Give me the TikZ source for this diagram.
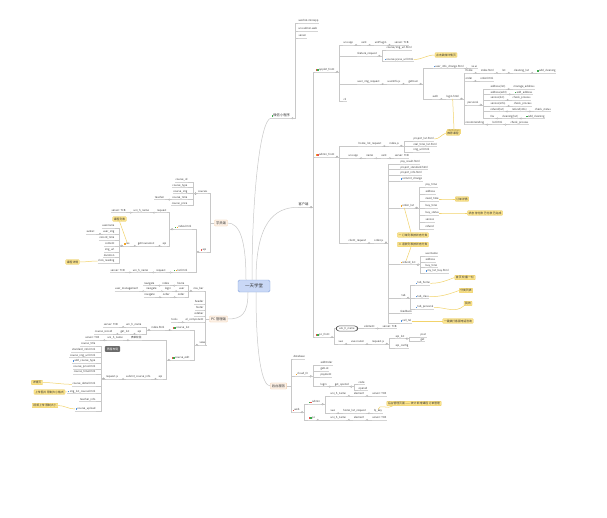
\documentclass[tikz,border=0pt]{standalone}
\usepackage{fontspec}
\setmainfont{Noto Sans CJK SC}
\definecolor{lnc}{HTML}{C8C8C8}
\definecolor{ulc}{HTML}{D4D4D4}
\definecolor{cof}{HTML}{FCE48C}
\definecolor{cod}{HTML}{E6C65A}
\definecolor{ycl}{HTML}{F2D36B}
\definecolor{mbf}{HTML}{FDF1E6}
\definecolor{mbd}{HTML}{F0CDAA}
\definecolor{cnf}{HTML}{C9D8F6}
\definecolor{cnd}{HTML}{86A4DE}
\definecolor{ig}{HTML}{3BAA4A}
\definecolor{ir}{HTML}{E8524A}
\definecolor{io}{HTML}{F5A623}
\definecolor{ib}{HTML}{4A90E2}
\definecolor{txc}{HTML}{333333}
\newcommand\fsz{\fontsize{2.6pt}{3pt}\selectfont}
\newcommand\fszc{\fontsize{2.8pt}{3.2pt}\selectfont}
\newcommand\fszb{\fontsize{3.3pt}{4pt}\selectfont}
\newcommand\icn[1]{{\color{#1}\rule[0.05pt]{1.4pt}{1.4pt}}\hspace{0.4pt}}
\newcommand\chR[2]{\draw[cn] (#1.south east) -- (#2.south west); \draw[ci] ([xshift=2.5pt]#1.south east) circle (0.8pt);}
\newcommand\chL[2]{\draw[cn] (#1.south west) -- (#2.south east); \draw[ci] ([xshift=-2.5pt]#1.south west) circle (0.8pt);}
\newcommand\cR[2]{\draw[cn] (#1.south east) -- ++(4.5pt,0) |- (#2.south west); \draw[ci] ([xshift=2pt]#1.south east) circle (0.8pt);}
\newcommand\cL[2]{\draw[cn] (#1.south west) -- ++(-4.5pt,0) |- (#2.south east); \draw[ci] ([xshift=-2pt]#1.south west) circle (0.8pt);}
\newcommand\nR[3]{\node[t] (#1) at ([xshift=7pt]#2.east) {#3}; \chR{#2}{#1}}
\newcommand\nL[3]{\node[tl] (#1) at ([xshift=-7pt]#2.west) {#3}; \chL{#2}{#1}}
\newcommand\bR[2]{\draw[cn] (#1.east) -- ++(4.5pt,0) |- (#2.south west);}
\newcommand\bL[2]{\draw[cn] (#1.west) -- ++(-4.5pt,0) |- (#2.south east);}
\begin{document}
\begin{tikzpicture}[x=1pt,y=-1pt,
  ul/.style={draw=ulc, line width=0.35pt},
  cn/.style={draw=lnc, line width=0.4pt},
  ci/.style={draw=black!35, fill=white, line width=0.25pt},
  cv/.style={draw=lnc, line width=0.5pt},
  yc/.style={draw=ycl, line width=0.5pt},
  t/.style={font=\fsz, text=txc, inner xsep=0.4pt, inner ysep=0.5pt, text height=1.9pt, text depth=0.6pt, anchor=west,
    append after command={(\tikzlastnode.south west) edge[ul] (\tikzlastnode.south east)}},
  tl/.style={t, anchor=east},
  tb/.style={t, font=\fszb, text height=2.4pt, text depth=0.7pt},
  co/.style={fill=cof, draw=cod, line width=0.3pt, rounded corners=0.6pt, font=\fszc, text=txc, inner xsep=1.2pt, inner ysep=1pt},
  mb/.style={fill=mbf, draw=mbd, line width=0.3pt, rounded corners=0.8pt, font=\fszb, text=txc, inner xsep=1.5pt, inner ysep=1.5pt},
  cen/.style={fill=cnf, draw=cnd, line width=0.4pt, rounded corners=1.5pt, font=\fontsize{4.5pt}{5pt}\selectfont, text=txc, minimum width=32pt, minimum height=12pt},
  rb/.style={draw=black!65, fill=white, line width=0.6pt, rounded corners=3pt, font=\fsz, text=txc, inner xsep=3pt, inner ysep=1.4pt, anchor=west},
  db/.style={fill=black!58, text=white, rounded corners=0.8pt, font=\fszc, inner xsep=2pt, inner ysep=1.5pt}
]
\fill[white] (0,0) rectangle (607,517);
\useasboundingbox (0,0) rectangle (607,517);

% ---------------- centre ----------------
\node[cen] (c) at (254,286) {一天学堂};

% ---------------- right upper ----------------
\node[tb] (r1) at (271,116) {\icn{ig}微信小程序};
\node[t] (t1) at (298,21) {wechat-miniapp};
\node[t] (t2) at (298,29) {uni-admin-web};
\node[t] (t3) at (298,36) {server};
\cR{r1}{t1} \cR{r1}{t2} \cR{r1}{t3}

\node[tb] (p) at (298,205) {客户端};
\node[t] (A) at (315,70) {\icn{ir}\icn{ig}applet\_front};
\node[t] (B) at (315,155) {\icn{io}\icn{ir}admin\_front};
\node[t] (C) at (315,335) {\icn{ir}\icn{ig}pc\_front};
\cR{p}{A} \cR{p}{B} \cR{p}{C}

\draw[cv] ([xshift=-2pt]c.north) .. controls +(0,-90) and +(-10,0) .. (r1.south west);
\draw[cv] ([xshift=2pt]c.north) .. controls +(0,-55) and +(-25,0) .. (p.south west);

% A subtree
\node[t] (a1) at (343,43) {uni-app}; \nR{a1b}{a1}{vant} \nR{a1c}{a1b}{uniPlugin} \nR{a1d}{a1c}{server: TCB}
\node[t] (a2) at (357,54) {feature\_request};
\node[t] (a2a) at (386,48) {course/img\_url.html};
\node[t] (a2b) at (384,59.5) {\icn{ib}course.js/xxx\_url.html};
\cR{a2}{a2a} \cR{a2}{a2b}
\node[co] (co1) at (446,55) {点击跳转详情页};
\draw[yc] (a2b.east) to[out=0,in=180] (co1.west);

\node[t] (a3) at (357,82) {user\_img\_request}; \nR{a3b}{a3}{userInfo.js} \nR{a3c}{a3b}{getUser}
\node[t] (a3x) at (433,66.5) {\icn{ib}user\_info\_change.html}; \nR{a3y}{a3x}{xx.ui}
\node[t] (a3z) at (432,97) {auth}; \nR{a3w}{a3z}{login.html}
\cR{a3c}{a3x} \cR{a3c}{a3z}

\node[t] (b1) at (465,71) {home}; \nR{b1b}{b1}{index.html} \nR{b1c}{b1b}{list} \nR{b1d}{b1c}{cleaning\_list} \nR{b1e}{b1d}{\icn{ig}add\_cleaning}
\node[t] (b2) at (465,79) {order}; \nR{b2b}{b2}{order.html}
\node[t] (b3) at (467,103) {personal};
\node[t] (b31) at (490,87) {address(list)}; \nR{b31b}{b31}{manage\_address}
\node[t] (b32) at (490,92.5) {address(edit)}; \nR{b32b}{b32}{\icn{ig}add\_address}
\node[t] (b33) at (490,98) {service(list)}; \nR{b33b}{b33}{check\_process}
\node[t] (b34) at (490,104) {service(info)}; \nR{b34b}{b34}{check\_process}
\node[t] (b35) at (490,109.5) {refund(list)}; \nR{b35b}{b35}{refund(info)} \nR{b35c}{b35b}{check\_status}
\node[t] (b36) at (490,116.5) {fav}; \nR{b36b}{b36}{cleaning(list)} \nR{b36c}{b36b}{\icn{ig}add\_cleaning}
\cR{b3}{b31} \cR{b3}{b32} \cR{b3}{b33} \cR{b3}{b34} \cR{b3}{b35} \cR{b3}{b36}
\node[t] (b4) at (465,122.7) {recommending}; \nR{b4b}{b4}{list.html} \nR{b4c}{b4b}{check\_process}
\cR{a3w}{b1} \cR{a3w}{b2} \cR{a3w}{b3} \cR{a3w}{b4}
\node[co] (co2) at (454,131.5) {登录授权};
\draw[yc] (a3w.south) -- (co2.north);

\node[t] (a4) at (343,99.5) {cli};
\cR{A}{a1} \cR{A}{a2} \cR{A}{a3} \cR{A}{a4}

% B subtree
\node[t] (bb1) at (358,144) {home\_list\_request}; \nR{bb1b}{bb1}{index.js}
\node[t] (bb11) at (413,139) {project\_list.html};
\node[t] (bb12) at (413,144.5) {real\_time\_list.html};
\node[t] (bb13) at (413,150) {img\_url.html};
\cR{bb1b}{bb11} \cR{bb1b}{bb12} \cR{bb1b}{bb13}
\node[co] (co3) at (453,133) {推荐课程};
\draw[yc] (bb11.east) to[out=0,in=200] (co3.west);

\node[t] (bb2) at (348,156.3) {uni-app}; \nR{bb2b}{bb2}{name} \nR{bb2c}{bb2b}{vant} \nR{bb2d}{bb2c}{server: TCB}
\node[t] (bb3) at (348,241) {client\_request}; \nR{bb3b}{bb3}{order.js}

\node[t] (o1) at (400,162) {pay\_result.html};
\node[t] (o2) at (400,167.5) {project\_standard.html};
\node[t] (o3) at (400,173) {project\_info.html};
\node[t] (o4) at (400,179) {\icn{ib}commit\_change};
\node[t] (o5) at (400,206) {\icn{io}order\_list};
\node[t] (o51) at (425,185) {pay\_time};
\node[t] (o52) at (425,192) {address};
\node[t] (o53) at (425,199) {need\_time};
\node[t] (o54) at (425,206) {buy\_time};
\node[t] (o55) at (425,213) {buy\_status};
\node[t] (o56) at (425,220) {service};
\node[t] (o57) at (425,227) {refund};
\cR{o5}{o51} \cR{o5}{o52} \cR{o5}{o53} \cR{o5}{o54} \cR{o5}{o55} \cR{o5}{o56} \cR{o5}{o57}
\node[co] (co4) at (462,199) {订单详情};
\draw[yc] (o53.east) to[out=0,in=180] (co4.west);
\node[co] (co5) at (485,213) {状态 待付款 已付款 已完成};
\draw[yc] (o55.east) to[out=0,in=180] (co5.west);
\node[co] (co6) at (413,235) {一 订单列表按状态分类};
\node[co] (co7) at (413,244.5) {二 退款列表按状态分类};
\draw[yc] ([xshift=-3pt]o5.south) -- ([xshift=-2pt]co6.north);
\node[t] (o6) at (400,262.7) {\icn{io}refund\_list};
\draw[yc] ([xshift=-2pt]co7.south) -- ([xshift=-2pt]o6.north);
\node[t] (o61) at (425,254) {username};
\node[t] (o62) at (425,260) {address};
\node[t] (o63) at (425,265.5) {buy\_time};
\node[t] (o64) at (425,271) {\icn{ib}my\_list\_buy.html};
\cR{o6}{o61} \cR{o6}{o62} \cR{o6}{o63} \cR{o6}{o64}
\node[t] (o7) at (401,296) {tab};
\node[t] (o71) at (415,283.3) {\icn{ib}tab\_home};
\node[t] (o72) at (415,296.7) {\icn{ib}tab\_class};
\node[t] (o73) at (415,307.3) {\icn{ib}tab\_personal};
\cR{o7}{o71} \cR{o7}{o72} \cR{o7}{o73}
\node[co] (co8) at (465,277.5) {首页 轮播 一栏};
\node[co] (co9) at (466,290.5) {分类列表};
\node[co] (co10) at (468,303.5) {我的};
\draw[yc] (o71.east) to[out=0,in=200] (co8.west);
\draw[yc] (o72.east) to[out=0,in=200] (co9.west);
\draw[yc] (o73.east) to[out=0,in=220] (co10.south west);
\node[t] (o8) at (400,311.7) {feedback};
\node[t] (o9) at (400,321) {\icn{ib}call\_tel};
\node[co] (co11) at (458,321) {一键拨打客服电话咨询};
\draw[yc] (o9.east) -- (co11.west);
\cR{bb3b}{o1} \cR{bb3b}{o2} \cR{bb3b}{o3} \cR{bb3b}{o4} \cR{bb3b}{o5} \cR{bb3b}{o6} \cR{bb3b}{o7} \cR{bb3b}{o8} \cR{bb3b}{o9}
\cR{B}{bb1} \cR{B}{bb2} \cR{B}{bb3}

% C subtree
\node[rb] (c1) at (336,328.5) {uni\_h\_name};
\node[t, anchor=south west] (c1b) at ([xshift=6pt]c1.east) {element};
\draw[cn] (c1.east) -- (c1b.south west);
\nR{c1c}{c1b}{server: TCB}
\node[t] (c2) at (338,342) {vue}; \nR{c2b}{c2}{vue-router} \nR{c2c}{c2b}{request.js}
\node[t] (c21) at (395,336.7) {api\_list};
\node[t] (c22) at (395,346) {api\_config};
\node[t] (c211) at (420,335) {post};
\node[t] (c212) at (420,339.6) {get};
\cR{c2c}{c21} \cR{c2c}{c22} \cR{c21}{c211} \cR{c21}{c212}
\draw[cn] (C.south east) -- ++(4.5pt,0) |- (c1.west);
\cR{C}{c2}

% ---------------- right lower ----------------
\node[mb] (H) at (278.5,386) {后台服务};
\draw[cv] ([xshift=2pt]c.south) .. controls +(0,65) and +(-8,0) .. (H.west);
\node[t] (h1) at (293,357.3) {database};
\node[t] (h2) at (295,374.3) {\icn{io}cloud\_fn};
\node[t] (h3) at (292,410.3) {\icn{ir}web};
\bR{H}{h1} \bR{H}{h2} \bR{H}{h3}
\node[t] (h21) at (320,363.3) {addOrder};
\node[t] (h22) at (320,369.3) {getList};
\node[t] (h23) at (320,375.3) {payment};
\node[t] (h24) at (320,384.7) {login}; \nR{h24b}{h24}{get\_openid}
\node[t] (h241) at (358,382.7) {code};
\node[t] (h242) at (358,388.7) {openid};
\cR{h2}{h21} \cR{h2}{h22} \cR{h2}{h23} \cR{h2}{h24} \cR{h24b}{h241} \cR{h24b}{h242}
\node[t] (h31) at (308,402.3) {\icn{ig}\icn{ir}admin};
\node[t] (h32) at (308,418) {\icn{ir}\icn{ig}pc};
\cR{h3}{h31} \cR{h3}{h32}
\node[t] (h311) at (330,394) {uni\_h\_name}; \nR{h311b}{h311}{element} \nR{h311c}{h311b}{server: TCB}
\node[t] (h312) at (330,411.3) {vue}; \nR{h312b}{h312}{home\_list\_request} \nR{h312c}{h312b}{bj\_key}
\cR{h31}{h311} \cR{h31}{h312}
\node[co] (co12) at (414,403.5) {后台管理页面 —— 统计 新增课程 订单管理};
\draw[yc] (h312c.north) to[out=80,in=220] ([xshift=6pt]co12.south west);
\node[t] (h321) at (330,418) {uni\_h\_name}; \nR{h321b}{h321}{element} \nR{h321c}{h321b}{server: TCB}
\cR{h32}{h321}

% ---------------- left upper ----------------
\node[mb] (S) at (221,223) {学员端};
\draw[cv] ([xshift=-8pt]c.north) .. controls +(0,-40) and +(12,0) .. (S.east);
\node[tl] (L1) at (208,191.7) {courses};
\node[tl] (L2) at (207,250) {\icn{ir}api};
\bL{S}{L1} \bL{S}{L2}
\node[tl] (L11) at (188,180) {course\_id};
\node[tl] (L12) at (188,185.7) {course\_type};
\node[tl] (L13) at (188,191.7) {course\_img};
\node[tl] (L14) at (188,197.7) {course\_time}; \nL{L14b}{L14}{teacher}
\node[tl] (L15) at (188,203.7) {course\_price};
\cL{L1}{L11} \cL{L1}{L12} \cL{L1}{L13} \cL{L1}{L14} \cL{L1}{L15}
\node[tl] (L21) at (192,227.3) {\icn{ig}\icn{io}index.html};
\node[tl] (L211) at (167,210.7) {request}; \nL{L211b}{L211}{uni\_h\_name} \nL{L211c}{L211b}{server: TCB}
\node[tl] (L212) at (167,244) {api}; \nL{L212b}{L212}{getCourseList} \nL{L212c}{L212b}{\icn{io}res}
\cL{L21}{L211} \cL{L21}{L212}
\node[tl] (m1) at (115,226) {username};
\node[tl] (m2) at (115,232) {user\_img}; \nL{m2b}{m2}{avatar:}
\node[tl] (m3) at (115,238) {record\_time};
\node[tl] (m4) at (115,244) {content};
\node[tl] (m5) at (115,250) {img\_url};
\node[tl] (m6) at (115,255.5) {duration};
\node[tl] (m7) at (115,261) {click\_reading};
\cL{L212c}{m1} \cL{L212c}{m2} \cL{L212c}{m3} \cL{L212c}{m4} \cL{L212c}{m5} \cL{L212c}{m6} \cL{L212c}{m7}
\node[co] (co13) at (72.5,262) {课程详情};
\draw[yc] (m7.west) to[out=180,in=0] (co13.east);
\node[co] (co14) at (119.5,219) {课程列表};
\draw[yc] (L212c.north) -- (co14.south);
\node[tl] (L22) at (188,270.5) {\icn{ig}\icn{io}list.html}; \nL{L22b}{L22}{request} \nL{L22c}{L22b}{uni\_h\_name} \nL{L22d}{L22c}{server: TCB}
\cL{L2}{L21} \cL{L2}{L22}

% ---------------- left lower ----------------
\node[mb] (PC) at (218.5,319) {PC 管理端};
\draw[cv] ([xshift=-6pt]c.south) .. controls +(0,22) and +(14,0) .. (PC.east);
\node[tl] (P1) at (204,289) {nav\_bar};
\node[tl] (P11) at (185,283.7) {home}; \nL{P11b}{P11}{index} \nL{P11c}{P11b}{navigate}
\node[tl] (P12) at (185,289.3) {user}; \nL{P12b}{P12}{login} \nL{P12c}{P12b}{navigate} \nL{P12d}{P12c}{user\_management}
\node[tl] (P13) at (185,295.3) {order}; \nL{P13b}{P13}{order} \nL{P13c}{P13b}{navigate}
\cL{P1}{P11} \cL{P1}{P12} \cL{P1}{P13}
\node[tl] (P2) at (204,302) {header};
\node[tl] (P3) at (204,308) {footer};
\node[tl] (P4) at (204,314.3) {sidebar};
\node[tl] (P5) at (204,320.3) {el\_component}; \nL{P5b}{P5}{tools}
\node[tl] (P6) at (207,343) {views};
\bL{PC}{P1} \bL{PC}{P2} \bL{PC}{P3} \bL{PC}{P4} \bL{PC}{P5} \bL{PC}{P6}
\node[tl] (Q1) at (190,328) {\icn{ir}\icn{ig}course\_list}; \nL{Q1b}{Q1}{index.html}
\node[tl] (Q11) at (142,325) {uni\_h\_name}; \nL{Q11b}{Q11}{server: TCB}
\node[tl] (Q12) at (142,332) {api}; \nL{Q12b}{Q12}{get\_list} \nL{Q12c}{Q12b}{course\_record}
\cL{Q1b}{Q11} \cL{Q1b}{Q12}
\node[tl] (Q2) at (190,358) {\icn{ir}\icn{ig}course\_edit};
\node[tl] (Q21) at (142,338.3) {表单校验}; \nL{Q21b}{Q21}{uni\_h\_name} \nL{Q21c}{Q21b}{server: TCB}
\node[tl] (Q22) at (163,377) {api}; \nL{Q22b}{Q22}{submit\_course\_info} \nL{Q22c}{Q22b}{request.js}
\cL{Q2}{Q21} \cL{Q2}{Q22}
\cL{P6}{Q1} \cL{P6}{Q2}
\node[tl] (k1) at (96,344) {course\_title};
\node[tl] (k2) at (96,350) {standard\_info.html};
\node[tl] (k3) at (96,355.7) {course\_img\_url.html};
\node[tl] (k4) at (96,361) {\icn{ib}add\_course\_type};
\node[tl] (k5) at (96,367) {course\_price.html};
\node[tl] (k6) at (96,372.3) {course\_time.html};
\node[tl] (k7) at (96,384.3) {course\_detail.html};
\node[tl] (k8) at (96,391.7) {\icn{ib}img\_list\_course.html};
\node[tl] (k9) at (96,399.7) {teacher\_info};
\node[tl] (k10) at (96,409) {\icn{ib}course\_upload};
\cL{Q22c}{k1} \cL{Q22c}{k2} \cL{Q22c}{k3} \cL{Q22c}{k4} \cL{Q22c}{k5} \cL{Q22c}{k6} \cL{Q22c}{k7} \cL{Q22c}{k8} \cL{Q22c}{k9} \cL{Q22c}{k10}
\node[co] (co15) at (37,382.5) {详情页};
\node[co] (co16) at (49.5,392) {上传图片 限制大小格式};
\node[co] (co17) at (45,405.5) {视频上传 限制大小};
\draw[yc] (k7.west) to[out=180,in=0] (co15.east);
\draw[yc] (k8.west) to[out=180,in=0] (co16.east);
\draw[yc] (k10.west) to[out=180,in=0] (co17.east);
\node[db] (dk) at (112.5,349) {界面布局};
\end{tikzpicture}
\end{document}
